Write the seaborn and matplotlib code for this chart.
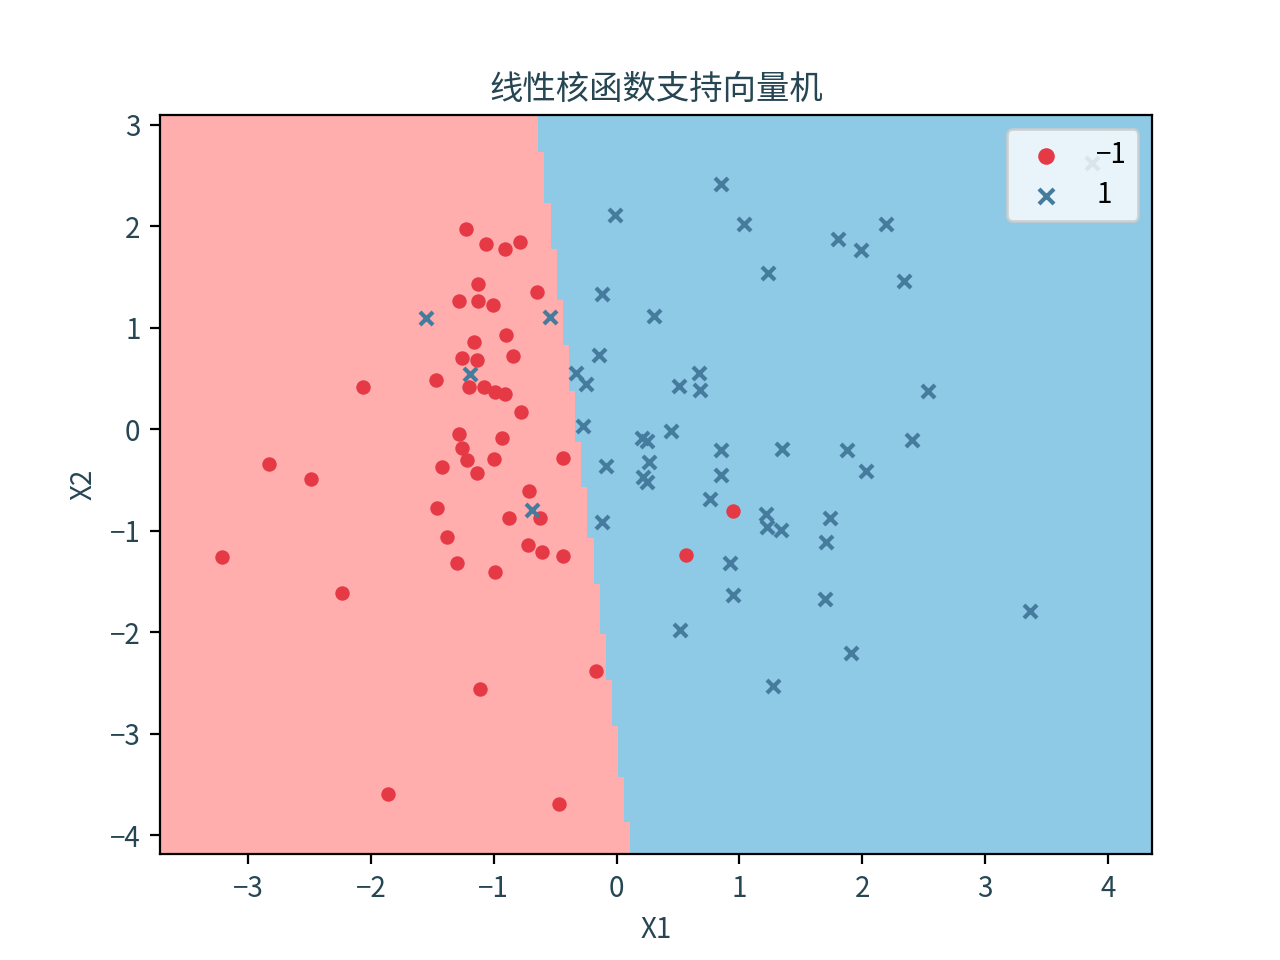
import numpy as np
import pandas as pd
import matplotlib
matplotlib.use("Agg")
import matplotlib.pyplot as plt
from matplotlib.colors import ListedColormap
import seaborn as sns

# ---- data ----
neg_x1 = [-1.223, -1.061, -0.784, -0.908, -1.126, -1.280, -1.126, -1.004, -0.648, -0.898,
          -1.158, -1.256, -1.134, -0.841, -2.064, -1.467, -1.199, -1.077, -0.992, -0.906,
          -0.776, -1.280, -1.261, -0.930, -1.215, -0.995, -1.419, -1.134, -0.440, -2.829,
          -2.487, -0.711, -1.459, -0.873, -0.621, -1.378, -0.719, -0.605, -0.440, -1.297,
          -0.987, -3.212, -2.235, 0.950, 0.567, -0.165, -1.112, -1.861, -0.469]
neg_x2 = [1.969, 1.822, 1.841, 1.775, 1.427, 1.259, 1.259, 1.220, 1.348, 0.924,
          0.855, 0.697, 0.678, 0.720, 0.414, 0.480, 0.417, 0.411, 0.365, 0.342,
          0.173, -0.049, -0.190, -0.082, -0.299, -0.289, -0.368, -0.427, -0.279, -0.345,
          -0.493, -0.614, -0.772, -0.871, -0.871, -1.058, -1.137, -1.210, -1.245, -1.315,
          -1.403, -1.262, -1.617, -0.802, -1.236, -2.380, -2.564, -3.590, -3.698]

pos_x1 = [0.852, -0.011, 1.039, 1.800, 2.190, 1.992, 1.235, 2.342, 3.869, -0.116,
          -1.549, -0.540, 0.307, -0.141, -1.193, -0.330, -0.247, 0.673, 0.510, 0.681,
          2.537, -0.271, 0.445, 0.207, 0.250, 2.404, 0.852, 1.349, 1.873, -0.084,
          0.266, 2.032, 0.852, 0.217, 0.245, 0.763, -0.686, 1.218, 1.739, -0.116,
          1.224, 1.340, 1.707, 0.925, 0.950, 1.699, 3.365, 0.518, 1.910, 1.275]
pos_x2 = [2.413, 2.108, 2.019, 1.871, 2.019, 1.762, 1.541, 1.463, 2.623, 1.328,
          1.098, 1.102, 1.111, 0.727, 0.542, 0.549, 0.447, 0.552, 0.421, 0.388,
          0.372, 0.036, -0.013, -0.082, -0.115, -0.108, -0.210, -0.200, -0.210, -0.358,
          -0.328, -0.411, -0.447, -0.476, -0.520, -0.683, -0.799, -0.831, -0.871, -0.910,
          -0.966, -0.989, -1.111, -1.315, -1.630, -1.674, -1.795, -1.975, -2.202, -2.528]

class_labels = ["\u22121", "1"]

# linear decision function (estimated from the boundary in the picture)
coef = [1.0, 0.106]
intercept = 0.324

# ---- styling ----
TEXT = "#264653"
RED = "#e63946"
BLUE = "#457b9d"
BG_NEG = "#ffadad"
BG_POS = "#8ecae6"

plt.rcParams["font.family"] = ["Noto Sans CJK SC", "DejaVu Sans"]
plt.rcParams["axes.unicode_minus"] = True
plt.rcParams["text.color"] = TEXT
plt.rcParams["axes.labelcolor"] = TEXT
plt.rcParams["axes.titlecolor"] = TEXT
plt.rcParams["xtick.labelcolor"] = TEXT
plt.rcParams["ytick.labelcolor"] = TEXT

fig, ax = plt.subplots(figsize=(6.4, 4.8), dpi=200)

# decision region on a mesh
all_x1 = np.array(neg_x1 + pos_x1)
all_x2 = np.array(neg_x2 + pos_x2)
x_min, x_max = all_x1.min() - 0.5, all_x1.max() + 0.5
y_min, y_max = all_x2.min() - 0.5, all_x2.max() + 0.5
h = 0.05
xx, yy = np.meshgrid(np.arange(x_min, x_max + h, h), np.arange(y_min, y_max + h, h))
Z = np.where(coef[0] * xx + coef[1] * yy + intercept > 0, 1, 0)
ax.pcolormesh(xx, yy, Z, cmap=ListedColormap([BG_NEG, BG_POS]), shading="nearest",
              vmin=0, vmax=1, rasterized=True)

sns.scatterplot(x=neg_x1, y=neg_x2, color=RED, marker="o", s=27, linewidth=0,
                label=class_labels[0], ax=ax, zorder=3)
sns.scatterplot(x=pos_x1, y=pos_x2, color=BLUE, marker="x", s=22, linewidth=1.5,
                label=class_labels[1], ax=ax, zorder=3)

ax.set_xlim(-3.716, 4.358)
ax.set_ylim(-4.19, 3.094)
ax.set_xticks([-3, -2, -1, 0, 1, 2, 3, 4])
ax.set_yticks([-4, -3, -2, -1, 0, 1, 2, 3])
ax.set_title("线性核函数支持向量机")
ax.set_xlabel("X1")
ax.set_ylabel("X2")
ax.legend(loc="upper right", labelcolor="black", labelspacing=0.35, markerscale=1.15)

fig.savefig("out.png", dpi=200)
